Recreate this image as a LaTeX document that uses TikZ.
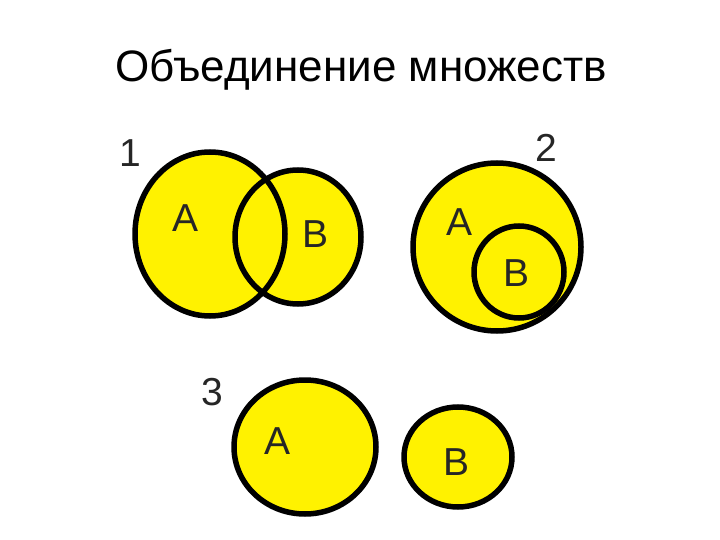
\documentclass[tikz,border=0pt]{standalone}
\usepackage{fontspec}
\setmainfont{Liberation Sans}
\begin{document}
\begin{tikzpicture}[x=1pt,y=-1pt,
  setfill/.style={fill=yellow},
  setline/.style={draw=black,line width=5.5pt},
  lbl/.style={font=\fontsize{39}{39}\selectfont,inner sep=0pt,text=black!85},
  ttl/.style={font=\fontsize{44}{44}\selectfont,inner sep=0pt}]
\useasboundingbox[fill=white] (0,0) rectangle (720,540);
\node[ttl] (title) at (361,70) {Объединение множеств};
% diagram 1
\fill[setfill] (210,234) ellipse [x radius=75,y radius=82];
\fill[setfill] (298,237) ellipse [x radius=63,y radius=67];
\draw[setline] (210,234) ellipse [x radius=75,y radius=82];
\draw[setline] (298,237) ellipse [x radius=63,y radius=67];
\node[lbl] (n1) at (130,153) {1};
\node[lbl] (a1) at (186,218) {A};
\node[lbl] (b1) at (316,234) {B};
% diagram 2
\draw[setline,setfill] (497,247) ellipse [x radius=84,y radius=84];
\draw[setline,setfill] (519,272) ellipse [x radius=45,y radius=46];
\node[lbl] (n2) at (546,148) {2};
\node[lbl] (a2) at (460,222) {A};
\node[lbl] (b2) at (516,273) {B};
% diagram 3
\draw[setline,setfill] (305,447) ellipse [x radius=71,y radius=67];
\draw[setline,setfill] (458,457) ellipse [x radius=54,y radius=50];
\node[lbl] (n3) at (212,392) {3};
\node[lbl] (a3) at (278,441) {A};
\node[lbl] (b3) at (457,462) {B};
\end{tikzpicture}
\end{document}
